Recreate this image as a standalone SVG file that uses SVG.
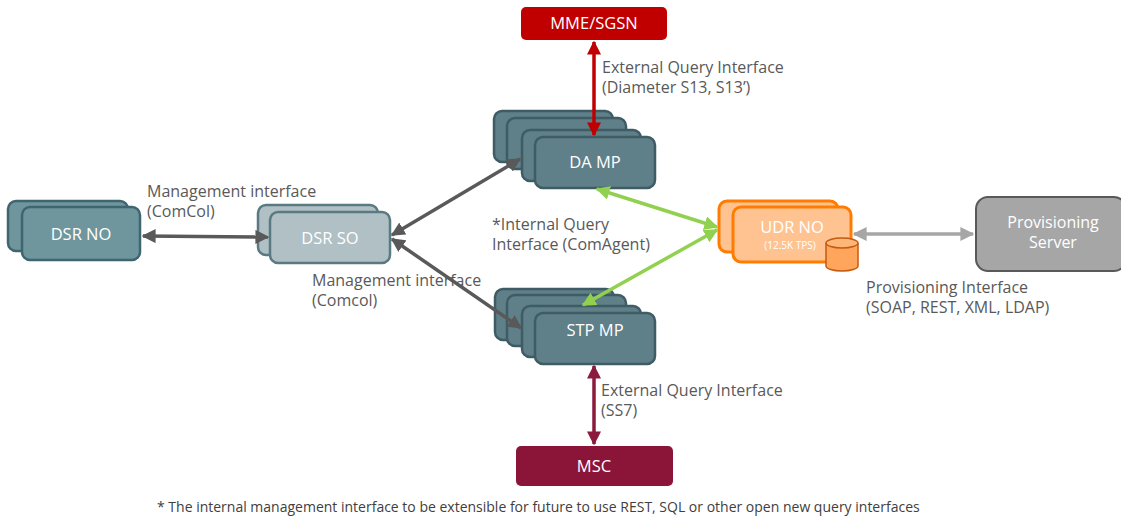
<svg xmlns="http://www.w3.org/2000/svg" width="1121" height="516" viewBox="0 0 1121 516">
<defs>
<style>
.lbl{font-family:"Open Sans","Liberation Sans",Arial,sans-serif;font-size:16px;fill:#595959}
.nt{font-family:"Open Sans","Liberation Sans",Arial,sans-serif;font-size:16.5px;fill:#ffffff;text-anchor:middle}
.teal{fill:#5f7f89;stroke:#3f5c64;stroke-width:2.5}
.dsrno{fill:#6f969d;stroke:#3f6670;stroke-width:2.5}
.dsrso{fill:#b0c0c5;stroke:#5a7a82;stroke-width:2.5}
.udr{fill:#ffc392;stroke:#ff7c00;stroke-width:3}
.cg{fill:none;stroke-width:3.5}
</style>
<marker id="ag" viewBox="0 0 10 10" refX="9" refY="5" markerWidth="4" markerHeight="4" orient="auto-start-reverse"><path d="M0,0 L10,5 L0,10 z" fill="#595959"/></marker>
<marker id="ar" viewBox="0 0 10 10" refX="9" refY="5" markerWidth="4" markerHeight="4" orient="auto-start-reverse"><path d="M0,0 L10,5 L0,10 z" fill="#c00000"/></marker>
<marker id="am" viewBox="0 0 10 10" refX="9" refY="5" markerWidth="4" markerHeight="4" orient="auto-start-reverse"><path d="M0,0 L10,5 L0,10 z" fill="#8b1a3c"/></marker>
<marker id="agr" viewBox="0 0 10 10" refX="9" refY="5" markerWidth="4" markerHeight="4" orient="auto-start-reverse"><path d="M0,0 L10,5 L0,10 z" fill="#92d050"/></marker>
<marker id="alg" viewBox="0 0 10 10" refX="9" refY="5" markerWidth="4" markerHeight="4" orient="auto-start-reverse"><path d="M0,0 L10,5 L0,10 z" fill="#a6a6a6"/></marker>
</defs>
<rect width="1121" height="516" fill="#ffffff"/>

<g id="mme">
<rect x="521" y="7" width="146" height="33" rx="5" fill="#c00000"/>
<text class="nt" x="594" y="29">MME/SGSN</text>
</g>

<g id="dsr-no">
<rect class="dsrno" x="8" y="201" width="120" height="50" rx="8"/>
<rect class="dsrno" x="22" y="207" width="118" height="53" rx="8"/>
<text class="nt" x="81" y="240">DSR NO</text>
</g>

<g id="dsr-so">
<rect class="dsrso" x="258" y="205" width="120" height="50" rx="8"/>
<rect class="dsrso" x="270" y="212" width="120" height="51" rx="8"/>
<text class="nt" x="330" y="244">DSR SO</text>
</g>

<g id="da-mp">
<rect class="teal" x="494" y="111" width="119" height="51" rx="8"/>
<rect class="teal" x="507" y="118" width="119" height="51" rx="8"/>
<rect class="teal" x="522" y="130" width="119" height="51" rx="8"/>
<rect class="teal" x="535" y="137" width="120" height="51" rx="8"/>
<text class="nt" x="595" y="168">DA MP</text>
</g>

<g id="stp-mp">
<rect class="teal" x="495" y="289" width="119" height="51" rx="8"/>
<rect class="teal" x="507" y="295" width="119" height="51" rx="8"/>
<rect class="teal" x="522" y="306" width="119" height="51" rx="8"/>
<rect class="teal" x="535" y="313" width="120" height="51" rx="8"/>
<text class="nt" x="595" y="336">STP MP</text>
</g>

<g id="udr-no">
<rect class="udr" x="719" y="201" width="119" height="51" rx="8"/>
<rect class="udr" x="733" y="207" width="118" height="55" rx="8"/>
<text class="nt" x="792" y="233">UDR NO</text>
<text class="nt" x="790" y="249" style="font-size:10px">(12.5K TPS)</text>
<path d="M826,243 L826,266 A16,5 0 0 0 858,266 L858,243" fill="#ffa65c" stroke="#c55a11" stroke-width="1.5"/>
<ellipse cx="842" cy="243" rx="16" ry="5" fill="#ffb779" stroke="#c55a11" stroke-width="1.5"/>
</g>

<g id="prov-server">
<rect x="976" y="197" width="150" height="74" rx="12" fill="#a6a6a6" stroke="#595959" stroke-width="2"/>
<text class="nt" x="1053" y="228" style="font-size:16px">Provisioning<tspan x="1053" dy="20">Server</tspan></text>
</g>

<g id="msc">
<rect x="516" y="446" width="157" height="40" rx="5" fill="#8b1538"/>
<text class="nt" x="594" y="472">MSC</text>
</g>

<g id="connectors">
<line class="cg" x1="143" y1="236" x2="268" y2="237" stroke="#595959" marker-start="url(#ag)" marker-end="url(#ag)"/>
<line class="cg" x1="392" y1="235" x2="520" y2="159" stroke="#595959" marker-start="url(#ag)" marker-end="url(#ag)"/>
<line class="cg" x1="392" y1="239" x2="521" y2="328" stroke="#595959" marker-start="url(#ag)" marker-end="url(#ag)"/>
<line class="cg" x1="594" y1="42" x2="594" y2="135" stroke="#c00000" marker-start="url(#ar)" marker-end="url(#ar)"/>
<line class="cg" x1="594" y1="366" x2="594" y2="444" stroke="#8b1a3c" marker-start="url(#am)" marker-end="url(#am)"/>
<line class="cg" x1="597" y1="189" x2="717" y2="227" stroke="#92d050" marker-start="url(#agr)" marker-end="url(#agr)"/>
<line class="cg" x1="717" y1="230" x2="583" y2="305" stroke="#92d050" marker-start="url(#agr)" marker-end="url(#agr)"/>
<line class="cg" x1="854" y1="234" x2="973" y2="234" stroke="#a6a6a6" marker-start="url(#alg)" marker-end="url(#alg)"/>
</g>

<g id="labels">
<text class="lbl" x="602" y="73">External Query Interface<tspan x="602" dy="20">(Diameter S13, S13’)</tspan></text>
<text class="lbl" x="147" y="197">Management interface<tspan x="147" dy="20">(ComCol)</tspan></text>
<text class="lbl" x="312" y="286">Management interface<tspan x="312" dy="20">(Comcol)</tspan></text>
<text class="lbl" x="492" y="230">*Internal Query<tspan x="492" dy="20">Interface (ComAgent)</tspan></text>
<text class="lbl" x="866" y="293">Provisioning Interface<tspan x="866" dy="20">(SOAP, REST, XML, LDAP)</tspan></text>
<text class="lbl" x="601" y="396">External Query Interface<tspan x="601" dy="20">(SS7)</tspan></text>
<text class="lbl" x="157" y="512" style="font-size:14px;fill:#404040">* The internal management interface to be extensible for future to use REST, SQL or other open new query interfaces</text>
</g>
</svg>
